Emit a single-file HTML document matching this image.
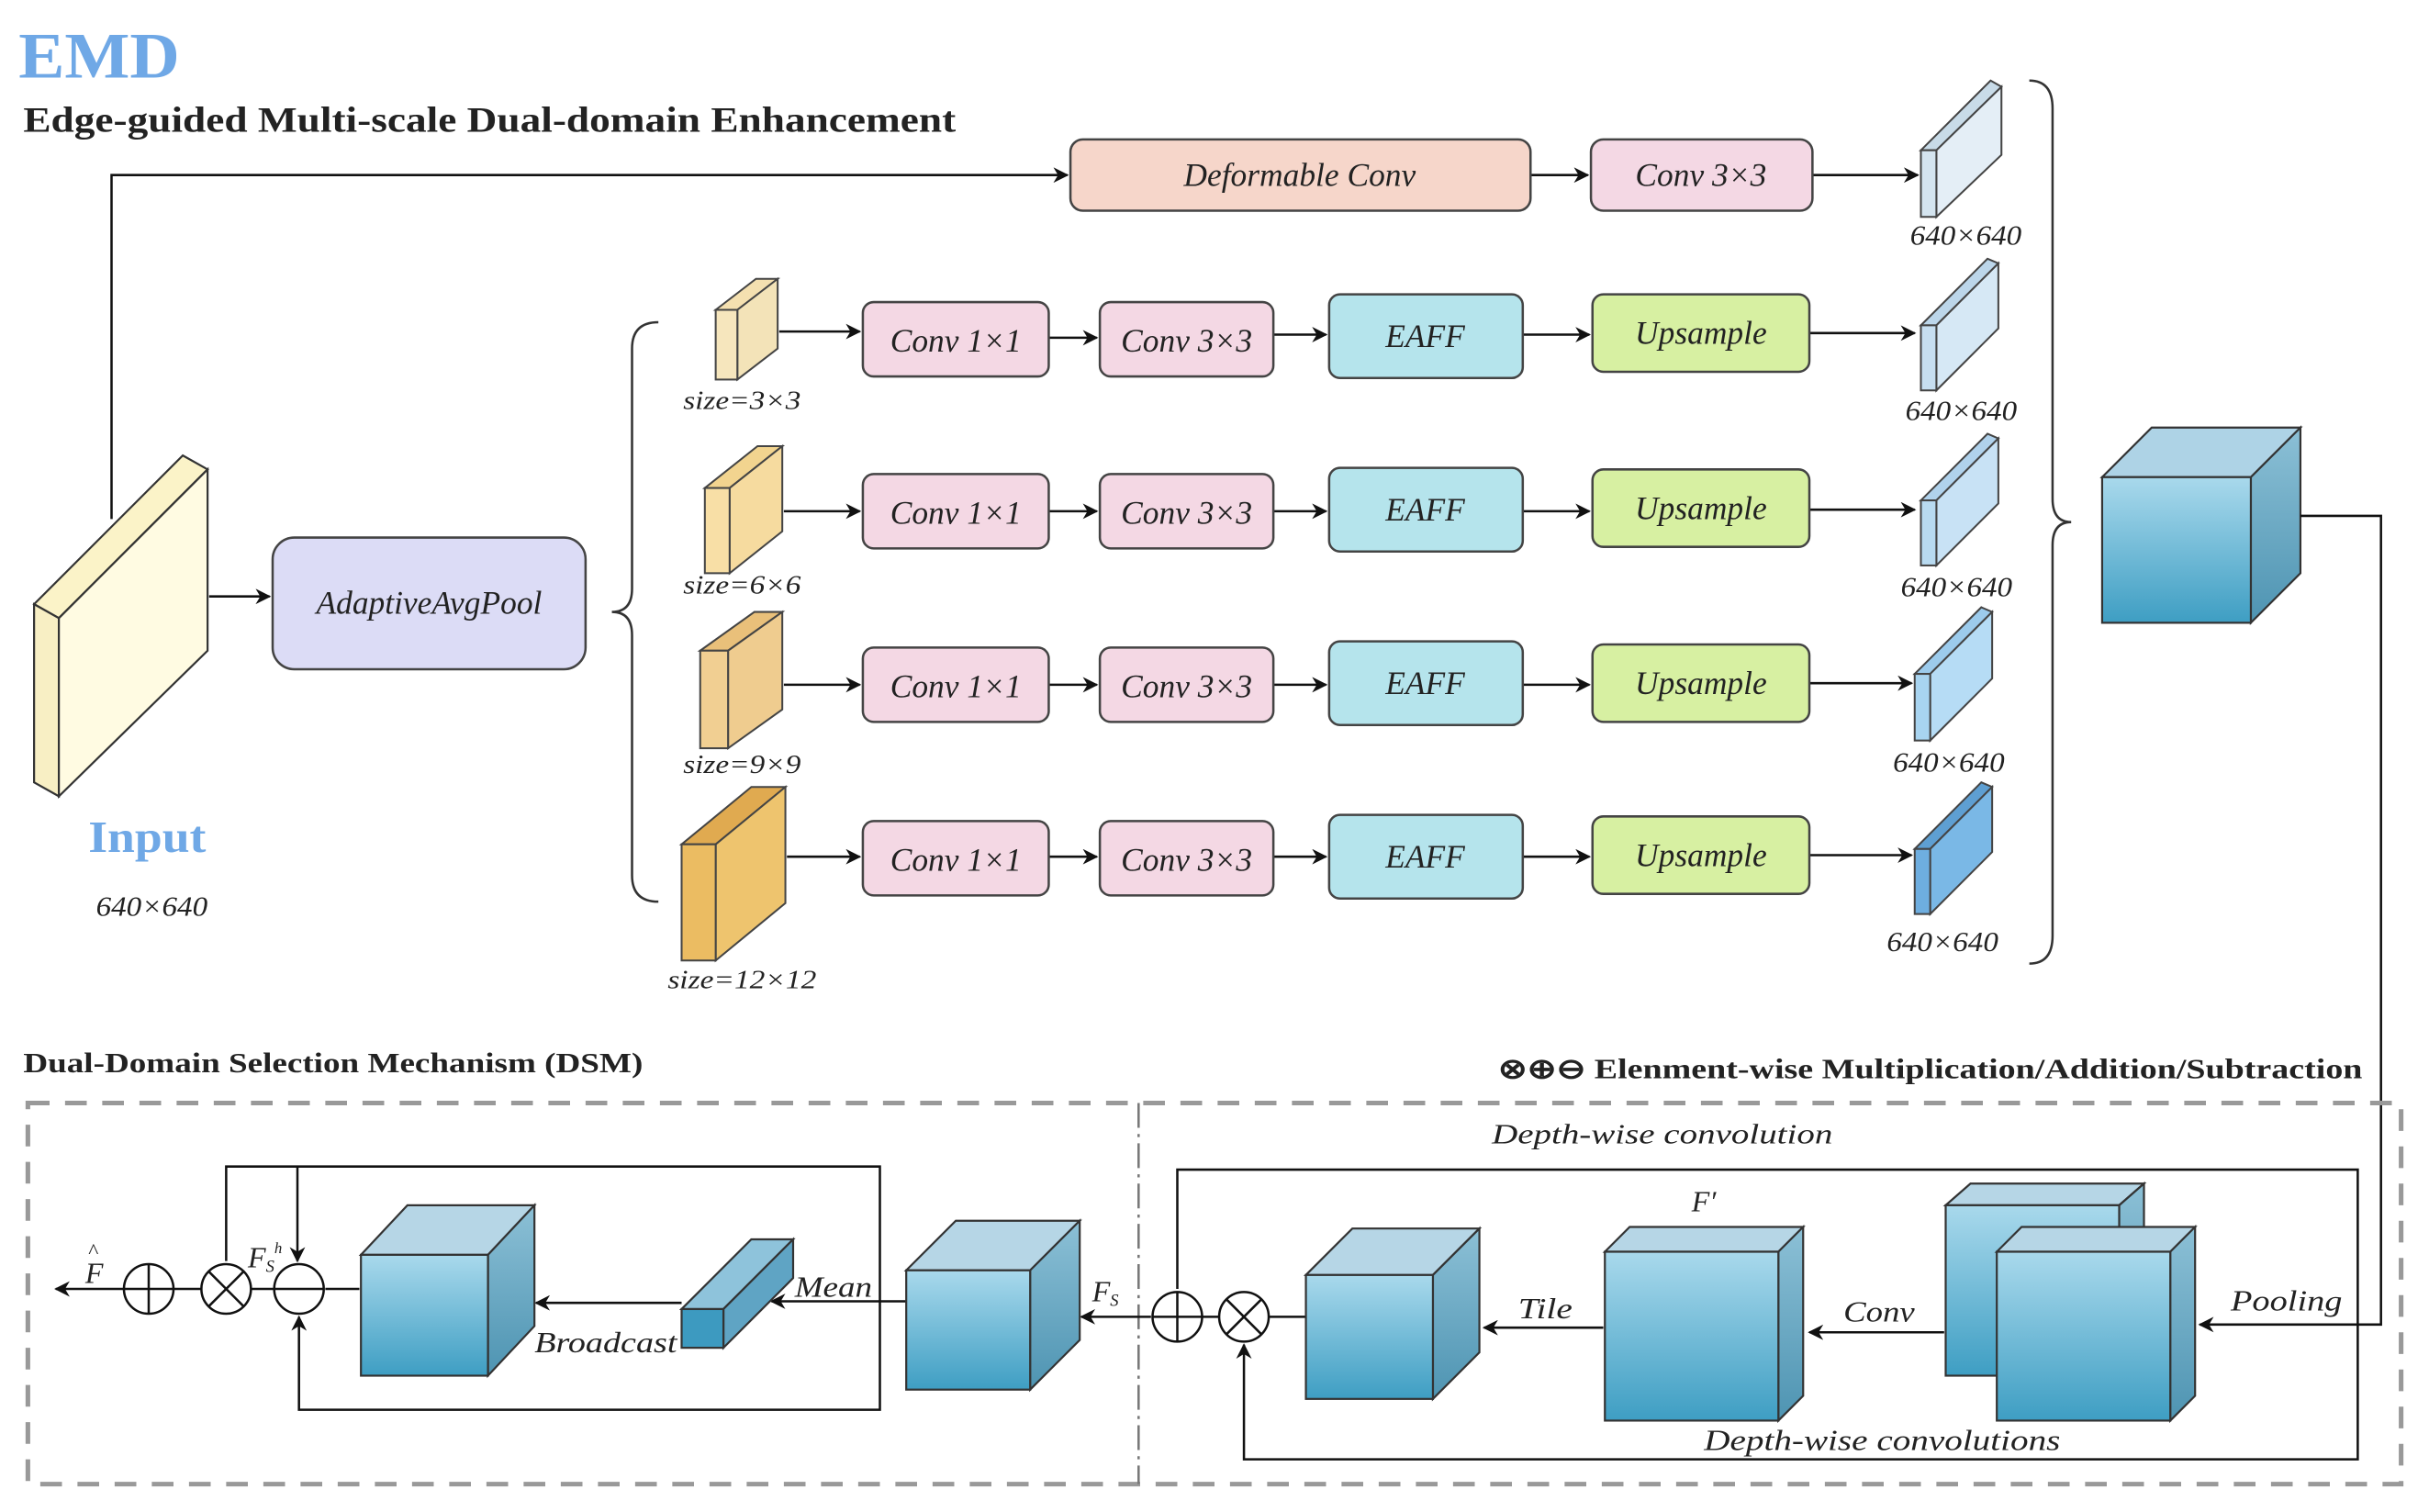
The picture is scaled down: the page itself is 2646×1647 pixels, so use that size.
<!DOCTYPE html>
<html><head><meta charset="utf-8"><style>
html,body{margin:0;padding:0;background:#fff;}
svg{display:block;}
text{font-family:"Liberation Serif",serif;fill:#222;}
.it{font-style:italic;}
</style></head><body>
<svg width="2646" height="1647" viewBox="0 0 1568 976" xmlns="http://www.w3.org/2000/svg">
<defs>
<marker id="ar" markerWidth="10" markerHeight="10" refX="9" refY="5" orient="auto" markerUnits="userSpaceOnUse"><path d="M0,0 L10,5 L0,10 L3,5 z" fill="#111"/></marker>
<linearGradient id="bf" x1="0" y1="0" x2="0" y2="1"><stop offset="0" stop-color="#a9d9ec"/><stop offset="1" stop-color="#3e9ec3"/></linearGradient>
<linearGradient id="bs" x1="0" y1="0" x2="0" y2="1"><stop offset="0" stop-color="#8cc0d6"/><stop offset="1" stop-color="#4e94b2"/></linearGradient>
</defs>
<text x="12" y="50" font-size="42" font-weight="bold" textLength="104" lengthAdjust="spacingAndGlyphs" style="fill:#6fa8e6">EMD</text>
<text x="15" y="85" font-size="23" font-weight="bold" textLength="602" lengthAdjust="spacingAndGlyphs">Edge-guided Multi-scale Dual-domain Enhancement</text>

<!-- input slab -->
<g stroke="#333" stroke-width="1.3">
<polygon points="22,390 118,294 134,303 38,399" fill="#fbf3c8"/>
<polygon points="22,390 38,399 38,514 22,505" fill="#f8efc4"/>
<polygon points="38,399 134,303 134,420 38,514" fill="#fffbe2"/>
</g>
<text x="57" y="550" font-size="29" font-weight="bold" textLength="76" lengthAdjust="spacingAndGlyphs" style="fill:#6fa8e6">Input</text>
<text x="62" y="591" font-size="18" class="it" textLength="72" lengthAdjust="spacingAndGlyphs">640×640</text>

<g stroke="#111" stroke-width="1.5" fill="none" marker-end="url(#ar)">
<polyline points="72,335 72,113 689,113"/>
<line x1="988" y1="113" x2="1025" y2="113"/>
<line x1="1170" y1="113" x2="1238" y2="113"/>
<line x1="135" y1="385" x2="174" y2="385"/>
</g>
<rect x="691" y="90" width="297" height="46" rx="8" fill="#f6d6ca" stroke="#444" stroke-width="1.5"/>
<text x="839" y="120" font-size="21" class="it" text-anchor="middle">Deformable Conv</text>
<rect x="1027" y="90" width="143" height="46" rx="8" fill="#f4d8e4" stroke="#444" stroke-width="1.5"/>
<text x="1098" y="120" font-size="21" class="it" text-anchor="middle">Conv 3×3</text>
<rect x="176" y="347" width="202" height="85" rx="14" fill="#dcdcf6" stroke="#444" stroke-width="1.5"/>
<text x="277" y="396" font-size="21" class="it" text-anchor="middle">AdaptiveAvgPool</text>

<path d="M425,208 Q408,208 408,225 L408,380 Q408,395 395,395 Q408,395 408,410 L408,565 Q408,582 425,582" stroke="#333" stroke-width="1.5" fill="none"/>
<path d="M1310,52 Q1325,52 1325,70 L1325,322 Q1325,337 1337,337 Q1325,337 1325,352 L1325,604 Q1325,622 1310,622" stroke="#333" stroke-width="1.5" fill="none"/>

<g stroke="#444" stroke-width="1.2">
<polygon points="462,200 488,180 502,180 476,200" fill="#f4e0b0"/><polygon points="476,200 502,180 502,225 476,245" fill="#f3e3b8"/><rect x="462" y="200" width="14" height="45" fill="#f6e6bd"/>
<polygon points="455,315 489,288 505,288 471,315" fill="#f2d48f"/><polygon points="471,315 505,288 505,343 471,370" fill="#f6db9f"/><rect x="455" y="315" width="16" height="55" fill="#f8dfa6"/>
<polygon points="452,420 487,395 505,395 470,420" fill="#e9c07a"/><polygon points="470,420 505,395 505,458 470,483" fill="#efcc8f"/><rect x="452" y="420" width="18" height="63" fill="#f1cf92"/>
<polygon points="440,545 485,508 507,508 462,545" fill="#e0aa50"/><polygon points="462,545 507,508 507,583 462,620" fill="#eec46e"/><rect x="440" y="545" width="22" height="75" fill="#ebbc62"/>
</g>
<g font-size="17" class="it">
<text x="441" y="264" class="it" textLength="76" lengthAdjust="spacingAndGlyphs">size=3×3</text>
<text x="441" y="383" class="it" textLength="76" lengthAdjust="spacingAndGlyphs">size=6×6</text>
<text x="441" y="499" class="it" textLength="76" lengthAdjust="spacingAndGlyphs">size=9×9</text>
<text x="431" y="638" class="it" textLength="96" lengthAdjust="spacingAndGlyphs">size=12×12</text>
</g>

<g stroke="#111" stroke-width="1.5" fill="none" marker-end="url(#ar)">
<line x1="503" y1="214" x2="555" y2="214"/><line x1="677" y1="218" x2="708" y2="218"/><line x1="822" y1="216" x2="856" y2="216"/><line x1="983" y1="216" x2="1026" y2="216"/><line x1="1168" y1="215" x2="1236" y2="215"/>
<line x1="506" y1="330" x2="555" y2="330"/><line x1="677" y1="330" x2="708" y2="330"/><line x1="822" y1="330" x2="856" y2="330"/><line x1="983" y1="330" x2="1026" y2="330"/><line x1="1168" y1="329" x2="1236" y2="329"/>
<line x1="506" y1="442" x2="555" y2="442"/><line x1="677" y1="442" x2="708" y2="442"/><line x1="822" y1="442" x2="856" y2="442"/><line x1="983" y1="442" x2="1026" y2="442"/><line x1="1168" y1="441" x2="1234" y2="441"/>
<line x1="508" y1="553" x2="555" y2="553"/><line x1="677" y1="553" x2="708" y2="553"/><line x1="822" y1="553" x2="856" y2="553"/><line x1="983" y1="553" x2="1026" y2="553"/><line x1="1168" y1="552" x2="1234" y2="552"/>
</g>
<g stroke="#444" stroke-width="1.5">
<rect x="557" y="195" width="120" height="48" rx="7" fill="#f4d8e4"/><rect x="710" y="195" width="112" height="48" rx="7" fill="#f4d8e4"/><rect x="858" y="190" width="125" height="54" rx="7" fill="#b5e4ec"/><rect x="1028" y="190" width="140" height="50" rx="7" fill="#d7f0a2"/>
<rect x="557" y="306" width="120" height="48" rx="7" fill="#f4d8e4"/><rect x="710" y="306" width="112" height="48" rx="7" fill="#f4d8e4"/><rect x="858" y="302" width="125" height="54" rx="7" fill="#b5e4ec"/><rect x="1028" y="303" width="140" height="50" rx="7" fill="#d7f0a2"/>
<rect x="557" y="418" width="120" height="48" rx="7" fill="#f4d8e4"/><rect x="710" y="418" width="112" height="48" rx="7" fill="#f4d8e4"/><rect x="858" y="414" width="125" height="54" rx="7" fill="#b5e4ec"/><rect x="1028" y="416" width="140" height="50" rx="7" fill="#d7f0a2"/>
<rect x="557" y="530" width="120" height="48" rx="7" fill="#f4d8e4"/><rect x="710" y="530" width="112" height="48" rx="7" fill="#f4d8e4"/><rect x="858" y="526" width="125" height="54" rx="7" fill="#b5e4ec"/><rect x="1028" y="527" width="140" height="50" rx="7" fill="#d7f0a2"/>
</g>
<g font-size="21" text-anchor="middle">
<text x="617" y="227" class="it">Conv 1×1</text><text x="766" y="227" class="it">Conv 3×3</text><text x="920" y="224" class="it">EAFF</text><text x="1098" y="222" class="it">Upsample</text>
<text x="617" y="338" class="it">Conv 1×1</text><text x="766" y="338" class="it">Conv 3×3</text><text x="920" y="336" class="it">EAFF</text><text x="1098" y="335" class="it">Upsample</text>
<text x="617" y="450" class="it">Conv 1×1</text><text x="766" y="450" class="it">Conv 3×3</text><text x="920" y="448" class="it">EAFF</text><text x="1098" y="448" class="it">Upsample</text>
<text x="617" y="562" class="it">Conv 1×1</text><text x="766" y="562" class="it">Conv 3×3</text><text x="920" y="560" class="it">EAFF</text><text x="1098" y="559" class="it">Upsample</text>
</g>

<g stroke="#444" stroke-width="1.2">
<polygon points="1240,97 1285,52 1292,56 1250,97" fill="#c8dbe8"/><polygon points="1250,97 1292,56 1292,100 1250,140" fill="#e4eef6"/><rect x="1240" y="97" width="10" height="43" fill="#d4e4ef"/>
<polygon points="1240,210 1283,167 1290,170 1250,210" fill="#bcd6ea"/><polygon points="1250,210 1290,170 1290,212 1250,252" fill="#d6e8f5"/><rect x="1240" y="210" width="10" height="42" fill="#c6def0"/>
<polygon points="1240,323 1283,280 1290,283 1250,323" fill="#b0d2ec"/><polygon points="1250,323 1290,283 1290,325 1250,365" fill="#c8e2f5"/><rect x="1240" y="323" width="10" height="42" fill="#b8daf0"/>
<polygon points="1236,435 1279,392 1286,395 1246,435" fill="#9ccbec"/><polygon points="1246,435 1286,395 1286,438 1246,478" fill="#b6dcf5"/><rect x="1236" y="435" width="10" height="43" fill="#a8d4f0"/>
<polygon points="1236,548 1279,505 1286,508 1246,548" fill="#5e9fd2"/><polygon points="1246,548 1286,508 1286,550 1246,590" fill="#7ab8e6"/><rect x="1236" y="548" width="10" height="42" fill="#6eaee0"/>
</g>
<g font-size="18">
<text x="1233" y="158" class="it" textLength="72" lengthAdjust="spacingAndGlyphs">640×640</text><text x="1230" y="271" class="it" textLength="72" lengthAdjust="spacingAndGlyphs">640×640</text><text x="1227" y="385" class="it" textLength="72" lengthAdjust="spacingAndGlyphs">640×640</text><text x="1222" y="498" class="it" textLength="72" lengthAdjust="spacingAndGlyphs">640×640</text><text x="1218" y="614" class="it" textLength="72" lengthAdjust="spacingAndGlyphs">640×640</text>
</g>

<g stroke="#333" stroke-width="1.3">
<polygon points="1357,308 1389,276 1485,276 1453,308" fill="#aed3e6"/>
<polygon points="1453,308 1485,276 1485,370 1453,402" fill="url(#bs)"/>
<rect x="1357" y="308" width="96" height="94" fill="url(#bf)"/>
</g>
<polyline points="1485,333 1537,333 1537,855 1420,855" stroke="#111" stroke-width="1.5" fill="none" marker-end="url(#ar)"/>

<text x="15" y="692" font-size="18" font-weight="bold" textLength="400" lengthAdjust="spacingAndGlyphs">Dual-Domain Selection Mechanism (DSM)</text>
<text x="967" y="696" font-size="18" font-weight="bold" textLength="558" lengthAdjust="spacingAndGlyphs">⊗⊕⊖ Elenment-wise Multiplication/Addition/Subtraction</text>
<rect x="18" y="712" width="1532" height="246" fill="none" stroke="#999" stroke-width="3" stroke-dasharray="14,10"/>
<line x1="735" y1="712" x2="735" y2="958" stroke="#777" stroke-width="1.5" stroke-dasharray="16,4,2,4"/>

<text x="963" y="738" font-size="18" class="it" textLength="220" lengthAdjust="spacingAndGlyphs">Depth-wise convolution</text>
<g stroke="#111" stroke-width="1.5" fill="none">
<polyline points="760,832 760,755 1522,755 1522,942 803,942 803,868" marker-end="url(#ar)"/>
<line x1="1035" y1="857" x2="958" y2="857" marker-end="url(#ar)"/>
<line x1="1255" y1="860" x2="1168" y2="860" marker-end="url(#ar)"/>
<line x1="743" y1="850" x2="698" y2="850" marker-end="url(#ar)"/>
<line x1="585" y1="840" x2="498" y2="840" marker-end="url(#ar)"/>
<line x1="440" y1="841" x2="346" y2="841" marker-end="url(#ar)"/>
<line x1="232" y1="832" x2="210" y2="832"/>
<line x1="177" y1="832" x2="162" y2="832"/>
<line x1="130" y1="832" x2="112" y2="832"/>
<line x1="80" y1="832" x2="36" y2="832" marker-end="url(#ar)"/>
<polyline points="146,814 146,753 568,753 568,910 193,910 193,850" marker-end="url(#ar)"/>
<line x1="192" y1="753" x2="192" y2="814" marker-end="url(#ar)"/>
<line x1="776" y1="850" x2="787" y2="850"/>
<line x1="819" y1="850" x2="843" y2="850"/>
</g>
<g stroke="#111" stroke-width="1.5" fill="#fff">
<circle cx="760" cy="850" r="16"/><circle cx="803" cy="850" r="16"/>
<circle cx="193" cy="832" r="16"/><circle cx="146" cy="832" r="16"/><circle cx="96" cy="832" r="16"/>
</g>
<g stroke="#111" stroke-width="1.5">
<line x1="744" y1="850" x2="776" y2="850"/><line x1="760" y1="834" x2="760" y2="866"/>
<line x1="792" y1="839" x2="814" y2="861"/><line x1="814" y1="839" x2="792" y2="861"/>
<line x1="177" y1="832" x2="209" y2="832"/>
<line x1="135" y1="821" x2="157" y2="843"/><line x1="157" y1="821" x2="135" y2="843"/>
<line x1="80" y1="832" x2="112" y2="832"/><line x1="96" y1="816" x2="96" y2="848"/>
</g>

<g stroke="#333" stroke-width="1.3">
<polygon points="1256,778 1272,764 1384,764 1368,778" fill="#b6d6e6"/><polygon points="1368,778 1384,764 1384,874 1368,888" fill="url(#bs)"/><rect x="1256" y="778" width="112" height="110" fill="url(#bf)"/>
<polygon points="1289,808 1305,792 1417,792 1401,808" fill="#b6d6e6"/><polygon points="1401,808 1417,792 1417,901 1401,917" fill="url(#bs)"/><rect x="1289" y="808" width="112" height="109" fill="url(#bf)"/>
<polygon points="1036,808 1052,792 1164,792 1148,808" fill="#b6d6e6"/><polygon points="1148,808 1164,792 1164,901 1148,917" fill="url(#bs)"/><rect x="1036" y="808" width="112" height="109" fill="url(#bf)"/>
<polygon points="843,823 873,793 955,793 925,823" fill="#b6d6e6"/><polygon points="925,823 955,793 955,873 925,903" fill="url(#bs)"/><rect x="843" y="823" width="82" height="80" fill="url(#bf)"/>
<polygon points="585,820 617,788 697,788 665,820" fill="#b6d6e6"/><polygon points="665,820 697,788 697,865 665,897" fill="url(#bs)"/><rect x="585" y="820" width="80" height="77" fill="url(#bf)"/>
<polygon points="440,845 485,800 512,800 467,845" fill="#8ec3db"/><polygon points="467,845 512,800 512,825 467,870" fill="#5fa4c4"/><rect x="440" y="845" width="27" height="25" fill="#3d9ac0"/>
<polygon points="233,810 263,778 345,778 315,810" fill="#b6d6e6"/><polygon points="315,810 345,778 345,856 315,888" fill="url(#bs)"/><rect x="233" y="810" width="82" height="78" fill="url(#bf)"/>
</g>
<g font-size="19">
<text x="1092" y="782" class="it">F′</text>
<text x="980" y="851" class="it" textLength="35" lengthAdjust="spacingAndGlyphs">Tile</text>
<text x="1190" y="853" class="it" textLength="46" lengthAdjust="spacingAndGlyphs">Conv</text>
<text x="1440" y="846" class="it" textLength="72" lengthAdjust="spacingAndGlyphs">Pooling</text>
<text x="1100" y="936" class="it" textLength="230" lengthAdjust="spacingAndGlyphs">Depth-wise convolutions</text>
<text x="705" y="840" class="it">F<tspan font-size="11" dy="3">S</tspan></text>
<text x="513" y="837" class="it" textLength="50" lengthAdjust="spacingAndGlyphs">Mean</text>
<text x="345" y="873" class="it" textLength="92" lengthAdjust="spacingAndGlyphs">Broadcast</text>
<text x="160" y="818" class="it">F<tspan font-size="11" dy="3">S</tspan><tspan font-size="10" dy="-12">h</tspan></text>
<text x="55" y="828" class="it">F</text><text x="57" y="812" font-size="14">^</text>
</g>
</svg>
</body></html>
